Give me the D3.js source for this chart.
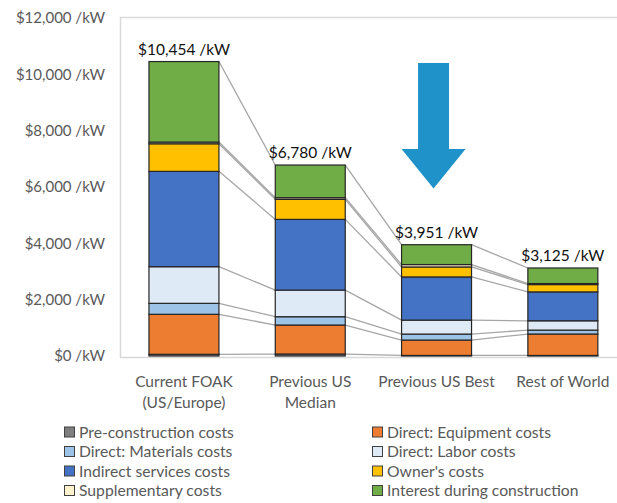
<!DOCTYPE html>
<html>
<head>
<meta charset="utf-8">
<script src="https://cdn.jsdelivr.net/npm/d3@7"></script>
<style>
  body { margin: 0; background: #fff; }
  text { font-family: Lato, "Open Sans", sans-serif; }
</style>
</head>
<body>
<script>
// categories (multi-line labels) and bar totals
var categoryLines = [["Current FOAK", "(US/Europe)"], ["Previous US", "Median"], ["Previous US Best"], ["Rest of World"]];
var categories = ["foak", "median", "best", "world"];
var totals = [10454, 6780, 3951, 3125];

// stacked segments, bottom to top ($/kW)
var preConstruction = [60, 70, 20, 20];
var equipment = [1420, 1030, 546, 760];
var materials = [390, 295, 213, 140];
var labor = [1300, 945, 495, 330];
var indirect = [3385, 2510, 1533, 1026];
var owners = [980, 710, 354, 260];
var supplementary = [60, 60, 85, 36];
var interest = [2859, 1160, 705, 553];

var seriesNames = ["Pre-construction costs", "Direct: Equipment costs", "Direct: Materials costs",
  "Direct: Labor costs", "Indirect services costs", "Owner's costs", "Supplementary costs",
  "Interest during construction"];
var seriesColors = ["#7f7f7f", "#ed7d31", "#9dc3e6", "#deebf7", "#4472c4", "#ffc000", "#fff2cc", "#70ad47"];
var yTicks = [0, 2000, 4000, 6000, 8000, 10000, 12000];

var width = 617, height = 503;

var svg = d3.select("body").append("svg")
  .attr("width", width)
  .attr("height", height);

var x = d3.scaleBand().domain(categories).range([120.8, 626]).paddingInner(0.446).paddingOuter(0.223);
var y = d3.scaleLinear().domain([0, 12000]).range([356, 18]);

// plot frame
svg.append("rect")
  .attr("x", 120.5).attr("y", 17.5)
  .attr("width", 520).attr("height", 340)
  .attr("fill", "none")
  .attr("stroke", "#d9d9d9")
  .attr("stroke-width", 1.5);

// y axis labels
var yAxis = svg.append("g")
  .attr("transform", "translate(105,0)")
  .call(d3.axisLeft(y).tickValues(yTicks).tickSize(0).tickPadding(0)
    .tickFormat(function(d) { return "$" + d3.format(",")(d) + " /kW"; }));
yAxis.select(".domain").remove();
yAxis.selectAll("text")
  .attr("fill", "#595959")
  .style("font-size", "15px");

// stack the data
var series = [preConstruction, equipment, materials, labor, indirect, owners, supplementary, interest];
var rows = categories.map(function(c, i) {
  var r = { cat: c };
  series.forEach(function(s, j) { r["s" + j] = s[i]; });
  return r;
});
var keys = series.map(function(s, j) { return "s" + j; });
var stacked = d3.stack().keys(keys)(rows);

// connector lines between adjacent bars at each boundary
var lines = [];
stacked.forEach(function(layer) {
  for (var i = 0; i < categories.length - 1; i++) {
    lines.push({ a: categories[i], b: categories[i + 1], v0: layer[i][1], v1: layer[i + 1][1] });
  }
});
svg.append("g").selectAll("line")
  .data(lines)
  .enter().append("line")
  .attr("x1", function(d) { return x(d.a) + x.bandwidth(); })
  .attr("x2", function(d) { return x(d.b); })
  .attr("y1", function(d) { return y(d.v0); })
  .attr("y2", function(d) { return y(d.v1); })
  .attr("stroke", "#a6a6a6")
  .attr("stroke-width", 1.3);

// bars
svg.append("g").selectAll("g")
  .data(stacked)
  .enter().append("g")
  .attr("fill", function(d, j) { return seriesColors[j]; })
  .selectAll("rect")
  .data(function(d) { return d; })
  .enter().append("rect")
  .attr("x", function(d) { return x(d.data.cat); })
  .attr("y", function(d) { return y(d[1]); })
  .attr("width", x.bandwidth())
  .attr("height", function(d) { return y(d[0]) - y(d[1]); })
  .attr("stroke", "#262626")
  .attr("stroke-width", 1.2);

// totals
svg.append("g").selectAll("text")
  .data(totals)
  .enter().append("text")
  .attr("x", function(d, i) { return x(categories[i]) + x.bandwidth() / 2; })
  .attr("y", function(d) { return y(d) - 7; })
  .attr("text-anchor", "middle")
  .attr("fill", "#111")
  .style("font-size", "15.5px")
  .text(function(d) { return "$" + d3.format(",")(d) + " /kW"; });

// category labels
var catG = svg.append("g").selectAll("text")
  .data(categoryLines)
  .enter().append("text")
  .attr("x", function(d, i) { return x(categories[i]) + x.bandwidth() / 2; })
  .attr("y", 387)
  .attr("text-anchor", "middle")
  .attr("fill", "#595959")
  .style("font-size", "15.5px");
catG.selectAll("tspan")
  .data(function(d) { return d; })
  .enter().append("tspan")
  .attr("x", function() { return d3.select(this.parentNode).attr("x"); })
  .attr("dy", function(d, i) { return i === 0 ? 0 : 21; })
  .text(function(d) { return d; });

// down arrow over the third bar
var ax = x("best") + x.bandwidth() / 2 - 3;
var arrow = d3.path();
arrow.moveTo(ax - 15.5, y(10400));
arrow.lineTo(ax + 15.5, y(10400));
arrow.lineTo(ax + 15.5, y(7350));
arrow.lineTo(ax + 32, y(7350));
arrow.lineTo(ax, y(5950));
arrow.lineTo(ax - 32, y(7350));
arrow.lineTo(ax - 15.5, y(7350));
arrow.closePath();
svg.append("path")
  .attr("d", arrow.toString())
  .attr("fill", "#1f93c9");

// legend, two columns filled row by row
var legend = svg.append("g").selectAll("g")
  .data(seriesNames)
  .enter().append("g")
  .attr("transform", function(d, i) {
    var col = i % 2, row = Math.floor(i / 2);
    return "translate(" + (col === 0 ? 64 : 372) + "," + (432 + row * 19.5) + ")";
  });
legend.append("rect")
  .attr("x", 0.5).attr("y", -5)
  .attr("width", 10).attr("height", 10)
  .attr("fill", function(d, i) { return seriesColors[i]; })
  .attr("stroke", "#404040")
  .attr("stroke-width", 1);
legend.append("text")
  .attr("x", 15)
  .attr("y", 5.5)
  .attr("fill", "#595959")
  .style("font-size", "15.7px")
  .text(function(d) { return d; });
</script>
</body>
</html>
